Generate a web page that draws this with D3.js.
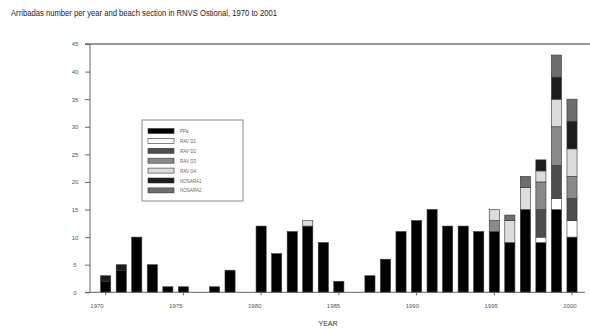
<!DOCTYPE html>
<html><head><meta charset="utf-8">
<script src="https://cdn.jsdelivr.net/npm/d3@7/dist/d3.min.js"></script>
<style>body{margin:0;background:#fff}svg{display:block}text{font-family:"Liberation Sans",Arial,sans-serif}</style>
</head><body><svg id="c" width="590" height="330"></svg>
<script>
const years = d3.range(1970, 2001);
const seriesNames = ["PPa","RAV D1","RAV D2","RAV D3","RAV D4","NOSARA1","NOSARA2"];
const seriesColors = ["#000000","#ffffff","#4d4d4d","#8a8a8a","#dcdcdc","#1c1c1c","#6e6e6e"];
// values per year 1970..2000
const PPa    = [2,4,10,5,1,1,0,1,4,0,12,7,11,12,9,2,0,3,6,11,13,15,12,12,11,11,9,15,9,15,10];
const RAV_D1 = [0,0,0,0,0,0,0,0,0,0,0,0,0,0,0,0,0,0,0,0,0,0,0,0,0,0,0,0,1,2,3];
const RAV_D2 = [0,0,0,0,0,0,0,0,0,0,0,0,0,0,0,0,0,0,0,0,0,0,0,0,0,0,0,0,5,6,4];
const RAV_D3 = [0,0,0,0,0,0,0,0,0,0,0,0,0,0,0,0,0,0,0,0,0,0,0,0,0,2,0,0,5,7,4];
const RAV_D4 = [0,0,0,0,0,0,0,0,0,0,0,0,0,1,0,0,0,0,0,0,0,0,0,0,0,2,4,4,2,5,5];
const NOSARA1= [1,1,0,0,0,0,0,0,0,0,0,0,0,0,0,0,0,0,0,0,0,0,0,0,0,0,0,0,2,4,5];
const NOSARA2= [0,0,0,0,0,0,0,0,0,0,0,0,0,0,0,0,0,0,0,0,0,0,0,0,0,0,1,2,0,4,4];
const yTicks = [0,5,10,15,20,25,30,35,40,45];
const xTickYears = [1970,1975,1980,1985,1990,1995,2000];
const title = "Arribadas number per year and beach section in RNVS Ostional, 1970 to 2001";

const allSeries = [PPa,RAV_D1,RAV_D2,RAV_D3,RAV_D4,NOSARA1,NOSARA2];
const rows = years.map((y,i)=>{const r={year:y}; seriesNames.forEach((s,j)=>r[s]=allSeries[j][i]); return r;});
const stacked = d3.stack().keys(seriesNames)(rows);

const svg = d3.select("#c");
const step = 15.55;
const x = d3.scaleBand().domain(years).range([105.7-step/2, 572+step/2]).paddingInner(0.35).paddingOuter(0.175);
const y = d3.scaleLinear().domain([0,45]).range([292.3,44]);
const xLab = d3.scaleLinear().domain([1970,2000]).range([97,570]);

svg.append("text").attr("x",11).attr("y",16).attr("font-size",8.5).attr("fill","#222")
  .attr("textLength",266).attr("lengthAdjust","spacingAndGlyphs").text(title);

// top line at 45
svg.append("line").attr("x1",85).attr("x2",590).attr("y1",y(45)).attr("y2",y(45)).attr("stroke","#777").attr("stroke-width",1.6);

// bars
svg.append("g").selectAll("g").data(stacked).join("g")
  .attr("fill",(d,i)=>seriesColors[i])
  .selectAll("rect").data(d=>d.filter(p=>p[1]-p[0]>0)).join("rect")
  .attr("x",d=>x(d.data.year)).attr("width",x.bandwidth())
  .attr("y",d=>y(d[1])).attr("height",d=>y(d[0])-y(d[1]))
  .attr("stroke","#333").attr("stroke-width",0.6);

// y axis
const yAxis = d3.axisLeft(y).tickValues(yTicks).tickSize(5).tickPadding(13);
const gy = svg.append("g").attr("transform","translate(90,0)").call(yAxis);
gy.select(".domain").attr("stroke","#666").attr("d","M0,44V292.3");
gy.selectAll(".tick line").attr("stroke","#666");
gy.selectAll(".tick text").attr("font-size",6).attr("fill","#555").attr("text-anchor","middle").attr("dx",3);

// x axis
const gx = svg.append("g").attr("transform","translate(0,292.3)");
gx.append("line").attr("x1",85).attr("x2",585).attr("stroke","#666");
gx.selectAll("line.t").data(xTickYears).join("line").attr("class","t")
  .attr("x1",d=>x(d)+x.bandwidth()/2).attr("x2",d=>x(d)+x.bandwidth()/2).attr("y1",0).attr("y2",3).attr("stroke","#666");
gx.selectAll("text").data(xTickYears).join("text")
  .attr("x",d=>xLab(d)).attr("y",16).attr("text-anchor","middle").attr("font-size",6).attr("fill","#555").text(d=>d);
svg.append("text").attr("x",328).attr("y",326).attr("text-anchor","middle").attr("font-size",7).attr("fill","#333").text("YEAR");

// legend
const lg = svg.append("g");
lg.append("rect").attr("x",142).attr("y",120).attr("width",101).attr("height",81).attr("fill","#fff").attr("stroke","#888").attr("stroke-width",1);
const li = lg.selectAll("g").data(seriesNames).join("g").attr("transform",(d,i)=>`translate(148,${131+i*9.9})`);
li.append("rect").attr("x",0).attr("y",-2.5).attr("width",26).attr("height",5).attr("fill",(d,i)=>seriesColors[i]).attr("stroke","#333").attr("stroke-width",0.6);
li.append("text").attr("x",32).attr("y",2).attr("font-size",4.5).attr("fill","#666").text(d=>d);
</script></body></html>
